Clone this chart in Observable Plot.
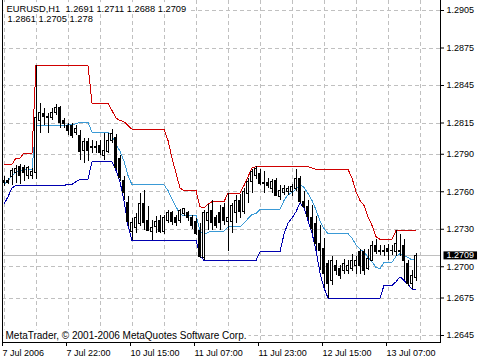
<!DOCTYPE html>
<html>
<head>
<meta charset="utf-8">
<script src="https://cdn.jsdelivr.net/npm/d3@7"></script>
<script src="https://cdn.jsdelivr.net/npm/@observablehq/plot@0.6"></script>
<style>
  html, body { margin: 0; padding: 0; background: #fff; }
  #chart { width: 480px; height: 360px; overflow: hidden; }
</style>
</head>
<body>
<div id="chart"></div>
<script>
// ---- Data (EURUSD, H1 bars, index 0 = 7 Jul 2006 06:00) ----
const opens = [
1.2769,1.2769,1.2772,1.2775,1.2780,1.2779,1.2773,1.2773,1.2775,1.2817,
1.2822,1.2820,1.2819,1.2823,1.2827,1.2817,1.2813,1.2813,1.2807,1.2805,
1.2793,1.2800,1.2796,1.2795,1.2797,1.2789,1.2792,1.2801,1.2803,1.2786,
1.2769,1.2751,1.2728,1.2731,1.2734,1.2750,1.2737,1.2728,1.2732,1.2737,
1.2728,1.2737,1.2743,1.2739,1.2737,1.2742,1.2743,1.2739,1.2736,1.2729,
1.2707,1.2737,1.2745,1.2739,1.2743,1.2747,1.2736,1.2736,1.2743,1.2753,
1.2744,1.2758,1.2768,1.2773,1.2774,1.2767,1.2767,1.2762,1.2769,1.2756,
1.2759,1.2760,1.2760,1.2762,1.2770,1.2752,1.2748,1.2739,1.2734,1.2718,
1.2714,1.2702,1.2689,1.2701,1.2698,1.2697,1.2697,1.2698,1.2701,1.2712,
1.2712,1.2698,1.2705,1.2717,1.2713,1.2713,1.2714,1.2713,1.2712,1.2712,
1.2717,1.2702,1.2686,1.2691];
const highs = [
1.2772,1.2771,1.2779,1.2781,1.2782,1.2781,1.2780,1.2779,1.2861,1.2831,
1.2827,1.2823,1.2827,1.2830,1.2828,1.2819,1.2815,1.2815,1.2813,1.2809,
1.2803,1.2803,1.2801,1.2800,1.2801,1.2807,1.2807,1.2810,1.2806,1.2789,
1.2772,1.2756,1.2739,1.2743,1.2759,1.2761,1.2748,1.2737,1.2740,1.2741,
1.2741,1.2745,1.2744,1.2741,1.2746,1.2747,1.2744,1.2741,1.2739,1.2735,
1.2745,1.2750,1.2753,1.2741,1.2749,1.2751,1.2759,1.2751,1.2757,1.2758,
1.2763,1.2771,1.2778,1.2780,1.2778,1.2776,1.2771,1.2770,1.2771,1.2765,
1.2765,1.2764,1.2766,1.2778,1.2772,1.2760,1.2753,1.2749,1.2740,1.2733,
1.2723,1.2705,1.2708,1.2705,1.2701,1.2706,1.2705,1.2710,1.2708,1.2714,
1.2714,1.2714,1.2720,1.2722,1.2717,1.2717,1.2718,1.2717,1.2729,1.2726,
1.2722,1.2705,1.2697,1.2711];
const lows = [
1.2764,1.2766,1.2765,1.2767,1.2766,1.2768,1.2770,1.2770,1.2770,1.2807,
1.2813,1.2807,1.2817,1.2821,1.2811,1.2811,1.2805,1.2803,1.2805,1.2785,
1.2783,1.2784,1.2791,1.2791,1.2789,1.2785,1.2791,1.2799,1.2777,1.2768,
1.2753,1.2732,1.2721,1.2727,1.2732,1.2729,1.2728,1.2721,1.2727,1.2727,
1.2726,1.2735,1.2733,1.2732,1.2735,1.2740,1.2736,1.2730,1.2725,1.2707,
1.2705,1.2729,1.2729,1.2731,1.2729,1.2733,1.2712,1.2727,1.2735,1.2739,
1.2742,1.2751,1.2759,1.2770,1.2765,1.2759,1.2763,1.2759,1.2756,1.2753,
1.2757,1.2757,1.2756,1.2760,1.2751,1.2747,1.2737,1.2727,1.2713,1.2697,
1.2683,1.2675,1.2685,1.2693,1.2690,1.2694,1.2694,1.2696,1.2694,1.2694,
1.2693,1.2697,1.2704,1.2710,1.2709,1.2708,1.2705,1.2709,1.2708,1.2708,
1.2689,1.2684,1.2682,1.2688];
const closes = [
1.2767,1.2767,1.2777,1.2778,1.2773,1.2775,1.2779,1.2776,1.2819,1.2823,
1.2820,1.2819,1.2823,1.2827,1.2815,1.2814,1.2809,1.2805,1.2810,1.2792,
1.2800,1.2793,1.2795,1.2796,1.2791,1.2793,1.2801,1.2806,1.2779,1.2771,
1.2759,1.2736,1.2735,1.2739,1.2750,1.2735,1.2729,1.2731,1.2736,1.2728,
1.2739,1.2743,1.2736,1.2735,1.2745,1.2746,1.2739,1.2733,1.2726,1.2708,
1.2743,1.2743,1.2735,1.2733,1.2735,1.2737,1.2739,1.2749,1.2753,1.2744,
1.2760,1.2768,1.2776,1.2778,1.2766,1.2766,1.2765,1.2768,1.2757,1.2761,
1.2762,1.2762,1.2764,1.2770,1.2752,1.2748,1.2740,1.2730,1.2718,1.2713,
1.2694,1.2686,1.2705,1.2697,1.2693,1.2702,1.2701,1.2705,1.2705,1.2701,
1.2697,1.2706,1.2717,1.2712,1.2712,1.2712,1.2712,1.2713,1.2718,1.2713,
1.2705,1.2686,1.2693,1.2709];
// Price channel: upper (red), lower (dark blue), middle (light blue)
const upper = [
1.2782,1.2782,1.2782,1.2787,1.2787,1.2791,1.2791,1.2791,1.2861,1.2861,
1.2861,1.2861,1.2861,1.2861,1.2861,1.2861,1.2861,1.2861,1.2861,1.2861,
1.2861,1.2861,1.2831,1.2831,1.2831,1.2831,1.2831,1.2825,1.2819,1.2817,
1.2816,1.2813,1.2810,1.2810,1.2810,1.2810,1.2810,1.2810,1.2810,1.2810,
1.2810,1.2801,1.2787,1.2775,1.2763,1.2761,1.2761,1.2761,1.2761,1.2748,
1.2747,1.2750,1.2752,1.2752,1.2752,1.2752,1.2759,1.2759,1.2759,1.2759,
1.2765,1.2772,1.2779,1.2780,1.2780,1.2780,1.2780,1.2780,1.2780,1.2780,
1.2780,1.2780,1.2780,1.2780,1.2780,1.2780,1.2780,1.2779,1.2778,1.2778,
1.2778,1.2778,1.2778,1.2778,1.2778,1.2778,1.2778,1.2771,1.2760,1.2753,
1.2749,1.2740,1.2733,1.2724,1.2722,1.2722,1.2722,1.2722,1.2729,1.2729,
1.2729,1.2729,1.2729,1.2729];
const lower = [
1.2750,1.2756,1.2763,1.2765,1.2765,1.2765,1.2765,1.2765,1.2765,1.2765,
1.2765,1.2765,1.2765,1.2765,1.2765,1.2765,1.2766,1.2766,1.2768,1.2770,
1.2770,1.2770,1.2784,1.2784,1.2784,1.2784,1.2784,1.2784,1.2777,1.2768,
1.2753,1.2733,1.2721,1.2721,1.2721,1.2721,1.2721,1.2721,1.2721,1.2721,
1.2721,1.2721,1.2721,1.2721,1.2721,1.2721,1.2721,1.2721,1.2721,1.2709,
1.2705,1.2705,1.2705,1.2705,1.2705,1.2705,1.2705,1.2705,1.2705,1.2705,
1.2705,1.2705,1.2705,1.2705,1.2712,1.2712,1.2712,1.2712,1.2712,1.2712,
1.2726,1.2735,1.2739,1.2744,1.2751,1.2747,1.2737,1.2727,1.2713,1.2695,
1.2683,1.2675,1.2675,1.2675,1.2675,1.2675,1.2675,1.2675,1.2675,1.2675,
1.2675,1.2675,1.2675,1.2675,1.2675,1.2685,1.2685,1.2685,1.2688,1.2692,
1.2689,1.2686,1.2682,1.2682];
const middle = [
1.2766,1.2769,1.27725,1.2776,1.2776,1.2778,1.2778,1.2778,1.2813,1.2813,
1.2813,1.2813,1.2813,1.2813,1.2813,1.2813,1.28135,1.28135,1.28145,1.28155,
1.28155,1.28155,1.28075,1.28075,1.28075,1.28075,1.28075,1.28045,1.2798,1.27925,
1.27845,1.2773,1.27655,1.27655,1.27655,1.27655,1.27655,1.27655,1.27655,1.27655,
1.27655,1.2761,1.2754,1.2748,1.2742,1.2741,1.2741,1.2741,1.2741,1.27285,
1.2726,1.27275,1.27285,1.27285,1.27285,1.27285,1.2732,1.2732,1.2732,1.2732,
1.2735,1.27385,1.2742,1.27425,1.2746,1.2746,1.2746,1.2746,1.2746,1.2746,
1.2753,1.27575,1.27595,1.2762,1.27655,1.27635,1.27585,1.2753,1.27455,1.27365,
1.27305,1.27265,1.27265,1.27265,1.27265,1.27265,1.27265,1.2723,1.27175,1.2714,
1.2712,1.27075,1.2704,1.26995,1.26985,1.27035,1.27035,1.27035,1.27085,1.27105,
1.2709,1.27075,1.27055,1.27055];

const yTicks = [1.2905, 1.2875, 1.2845, 1.2815, 1.2790, 1.2760, 1.2730, 1.2700, 1.2675, 1.2645];
const xTickBars = [0, 16, 32, 48, 64, 80, 96];
const xTickLabels = ["7 Jul 2006", "7 Jul 22:00", "10 Jul 15:00", "11 Jul 07:00", "11 Jul 23:00", "12 Jul 15:00", "13 Jul 07:00"];
const xGridBars = [0, 8, 16, 24, 32, 40, 48, 56, 64, 72, 80, 88, 96, 104];
const symbolName = "EURUSD,H1";
const lastBar = ["1.2691", "1.2711", "1.2688", "1.2709"];
const indicatorValues = ["1.2861", "1.2705", "1.278"];
const bidPrice = 1.2709;
const copyright = "MetaTrader, \u00A9 2001-2006 MetaQuotes Software Corp.";

// ---- Build tables for Plot ----
const bars = opens.map((o, i) => ({i, open: o, high: highs[i], low: lows[i], close: closes[i]}));
const series = (arr) => arr.map((v, i) => ({i, v}));
const dojis = bars.filter(d => d.open === d.close);

const FONT = "'Liberation Sans', Arial, sans-serif";

const chart = Plot.plot({
  width: 480,
  height: 360,
  marginLeft: 2,
  marginRight: 40,
  marginTop: 0,
  marginBottom: 18,
  style: {fontFamily: FONT, fontSize: "9px", background: "#fff", color: "#000", overflow: "visible"},
  x: {domain: [-0.375, 109.125], axis: null, label: null},
  y: {domain: [1.26394, 1.2913], axis: null, label: null},
  marks: [
    // grid
    Plot.ruleY(yTicks, {stroke: "#c0c0c0", strokeDasharray: "4,3", shapeRendering: "crispEdges"}),
    Plot.ruleX(xGridBars, {stroke: "#c0c0c0", strokeDasharray: "4,3", shapeRendering: "crispEdges"}),
    // bid line
    Plot.ruleY([bidPrice], {stroke: "#c0c0c0", shapeRendering: "crispEdges"}),
    // channel lines
    Plot.line(series(middle), {x: "i", y: "v", stroke: "#3a9ad6", strokeWidth: 1, shapeRendering: "crispEdges"}),
    Plot.line(series(upper), {x: "i", y: "v", stroke: "#d00000", strokeWidth: 1, shapeRendering: "crispEdges"}),
    Plot.line(series(lower), {x: "i", y: "v", stroke: "#0000b0", strokeWidth: 1, shapeRendering: "crispEdges"}),
    // candles
    Plot.ruleX(bars, {x: "i", y1: "low", y2: "high", stroke: "#000", shapeRendering: "crispEdges"}),
    Plot.rect(bars, {
      x1: d => d.i - 0.25, x2: d => d.i + 0.25,
      y1: "open", y2: "close",
      fill: d => d.close >= d.open ? "#fff" : "#000",
      stroke: "#000", strokeWidth: 1, shapeRendering: "crispEdges"
    }),
    Plot.ruleY(dojis, {y: "close", x1: d => d.i - 0.375, x2: d => d.i + 0.375, stroke: "#000", shapeRendering: "crispEdges"}),
    // frame: left, right, bottom
    Plot.frame({anchor: "left", stroke: "#000", shapeRendering: "crispEdges"}),
    Plot.frame({anchor: "right", stroke: "#000", shapeRendering: "crispEdges"}),
    Plot.frame({anchor: "bottom", stroke: "#000", shapeRendering: "crispEdges"}),
    // axes
    Plot.axisY({anchor: "right", label: null, ticks: yTicks, tickSize: 3, tickPadding: 3, tickFormat: d => d.toFixed(4), fontSize: 9, fill: "#000", stroke: "#000"}),
    Plot.axisX({anchor: "bottom", label: null, ticks: xTickBars, tickSize: 4, tickPadding: 3,
      tickFormat: d => xTickLabels[xTickBars.indexOf(d)], textAnchor: "start", dx: -1.5, fontSize: 9, fill: "#000", stroke: "#000"}),
    // header texts
    Plot.text([symbolName + "  " + lastBar.join(" ")], {frameAnchor: "top-left", dx: 4, dy: 5, lineAnchor: "top", textAnchor: "start", fontSize: 9.3, fill: "#000", className: "hdr1"}),
    Plot.text([indicatorValues.join(" ")], {frameAnchor: "top-left", dx: 5, dy: 15, lineAnchor: "top", textAnchor: "start", fontSize: 9.3, fill: "#000"}),
    // copyright
    Plot.text([copyright], {frameAnchor: "bottom-left", dx: 3, dy: -4, lineAnchor: "bottom", textAnchor: "start", fontSize: 10, fill: "#000", className: "copy"}),
    // bid price label in the right margin
    Plot.text([bidPrice], {y: d => d, text: d => d.toFixed(4), frameAnchor: "right", dx: 6, textAnchor: "start", fontSize: 9, fill: "#fff", className: "bidlabel"})
  ]
});

document.getElementById("chart").append(chart);

// backgrounds behind some text labels
function addBackground(cls, fill, padL, padR, padT, padB) {
  const t = chart.querySelector("." + cls + " text");
  if (!t) return;
  const b = t.getBBox();
  const r = document.createElementNS("http://www.w3.org/2000/svg", "rect");
  r.setAttribute("x", b.x - padL);
  r.setAttribute("y", b.y - padT);
  r.setAttribute("width", b.width + padL + padR);
  r.setAttribute("height", b.height + padT + padB);
  r.setAttribute("fill", fill);
  const tr = t.getAttribute("transform");
  if (tr) r.setAttribute("transform", tr);
  t.parentNode.insertBefore(r, t);
}
addBackground("hdr1", "#fff", 3, 2, 2, 0);
addBackground("copy", "#fff", 2, 2, 0, 0);
addBackground("bidlabel", "#000", 3, 3, -1, -1);
</script>
</body>
</html>
